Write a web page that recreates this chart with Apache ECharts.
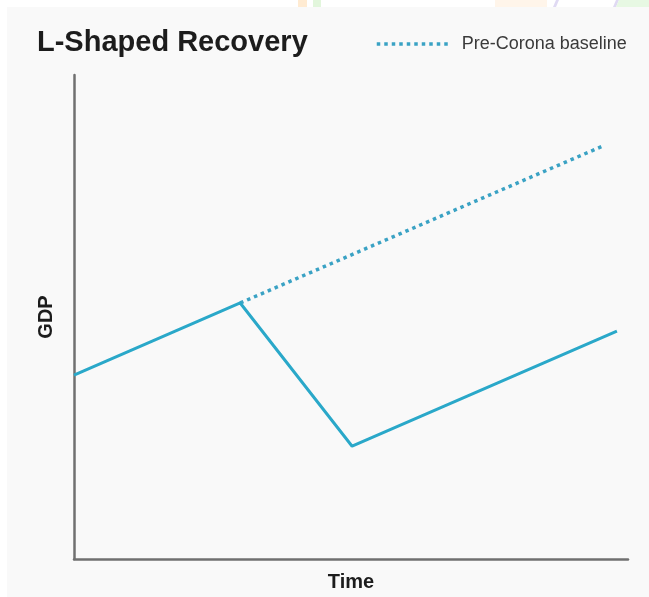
<!DOCTYPE html>
<html>
<head>
<meta charset="utf-8">
<title>L-Shaped Recovery</title>
<script src="https://cdn.jsdelivr.net/npm/echarts@6/dist/echarts.min.js"></script>
<style>
  html, body { margin: 0; padding: 0; background: #ffffff; }
  #chart { width: 649px; height: 597px; }
</style>
</head>
<body>
<div id="chart"></div>
<script>
// GDP path: pre-crisis growth, sharp fall, slow recovery
const timePoints = [0, 30, 50.2, 98];
const gdpValues = [38, 52.9, 23.3, 47.1];

// Pre-Corona trend continued from the peak
const baselineTime = [30, 95.8];
const baselineValues = [52.9, 85.5];

const seriesNames = ['GDP', 'Pre-Corona baseline'];
const axisNames = { x: 'Time', y: 'GDP' };
const titleText = 'L-Shaped Recovery';

const pair = (xs, ys) => xs.map((x, i) => [x, ys[i]]);

const lineColor = '#2aa8c9';
const dotColor = '#3aa2c4';
const axisColor = '#707070';
const font = 'Liberation Sans, Arial, sans-serif';

const chart = echarts.init(document.getElementById('chart'), null, { renderer: 'canvas' });

chart.setOption({
  backgroundColor: '#ffffff',
  animation: false,
  graphic: [
    { type: 'rect', z: -10, shape: { x: 7, y: 7, width: 642, height: 590 }, style: { fill: '#f9f9f9' } },
    // faint coloured shapes along the top edge
    { type: 'rect', z: -9, shape: { x: 298, y: 0, width: 9, height: 7 }, style: { fill: '#ffebd2' } },
    { type: 'rect', z: -9, shape: { x: 313, y: 0, width: 8, height: 7 }, style: { fill: '#e2f6dc' } },
    { type: 'rect', z: -9, shape: { x: 495, y: 0, width: 52, height: 7 }, style: { fill: '#fff5ea' } },
    { type: 'polygon', z: -9, shape: { points: [[556, 0], [559, 0], [556, 7], [553, 7]] }, style: { fill: '#e0daf3' } },
    { type: 'polygon', z: -9, shape: { points: [[616, 0], [619, 0], [616, 7], [613, 7]] }, style: { fill: '#e0daf3' } },
    { type: 'polygon', z: -9, shape: { points: [[619, 0], [649, 0], [649, 7], [616, 7]] }, style: { fill: '#e7f8e3' } }
  ],
  title: {
    text: titleText,
    left: 37,
    top: 28,
    padding: 0,
    textStyle: { fontFamily: font, fontWeight: 'bold', fontSize: 29, color: '#1c1c1c' }
  },
  legend: {
    data: [seriesNames[1]],
    left: 375,
    top: 35,
    padding: 0,
    itemWidth: 72,
    itemHeight: 14,
    selectedMode: false,
    itemStyle: { opacity: 0 },
    lineStyle: { width: 3.5, type: [3.5, 4], color: dotColor },
    textStyle: { fontFamily: font, fontSize: 18, color: '#3a3a3a', padding: [0, 0, 0, 8] }
  },
  grid: { left: 74, right: 21, top: 75, bottom: 38, containLabel: false },
  xAxis: {
    type: 'value',
    min: 0,
    max: 100,
    name: axisNames.x,
    nameLocation: 'middle',
    nameGap: 13,
    nameTextStyle: { fontFamily: font, fontWeight: 'bold', fontSize: 20, color: '#1c1c1c' },
    axisLine: { show: true, lineStyle: { color: axisColor, width: 2.5 } },
    axisTick: { show: false },
    axisLabel: { show: false },
    splitLine: { show: false }
  },
  yAxis: {
    type: 'value',
    min: 0,
    max: 100,
    name: axisNames.y,
    nameLocation: 'middle',
    nameGap: 18,
    nameRotate: 90,
    nameTextStyle: { fontFamily: font, fontWeight: 'bold', fontSize: 20, color: '#1c1c1c' },
    axisLine: { show: true, lineStyle: { color: axisColor, width: 2.5 } },
    axisTick: { show: false },
    axisLabel: { show: false },
    splitLine: { show: false }
  },
  series: [
    {
      name: seriesNames[0],
      type: 'line',
      data: pair(timePoints, gdpValues),
      symbol: 'none',
      lineStyle: { color: lineColor, width: 3 },
      itemStyle: { color: lineColor },
      z: 3
    },
    {
      name: seriesNames[1],
      type: 'line',
      data: pair(baselineTime, baselineValues),
      symbol: 'none',
      lineStyle: { color: dotColor, width: 3.5, type: [3.5, 4] },
      itemStyle: { color: dotColor },
      z: 2
    }
  ]
});
</script>
</body>
</html>
